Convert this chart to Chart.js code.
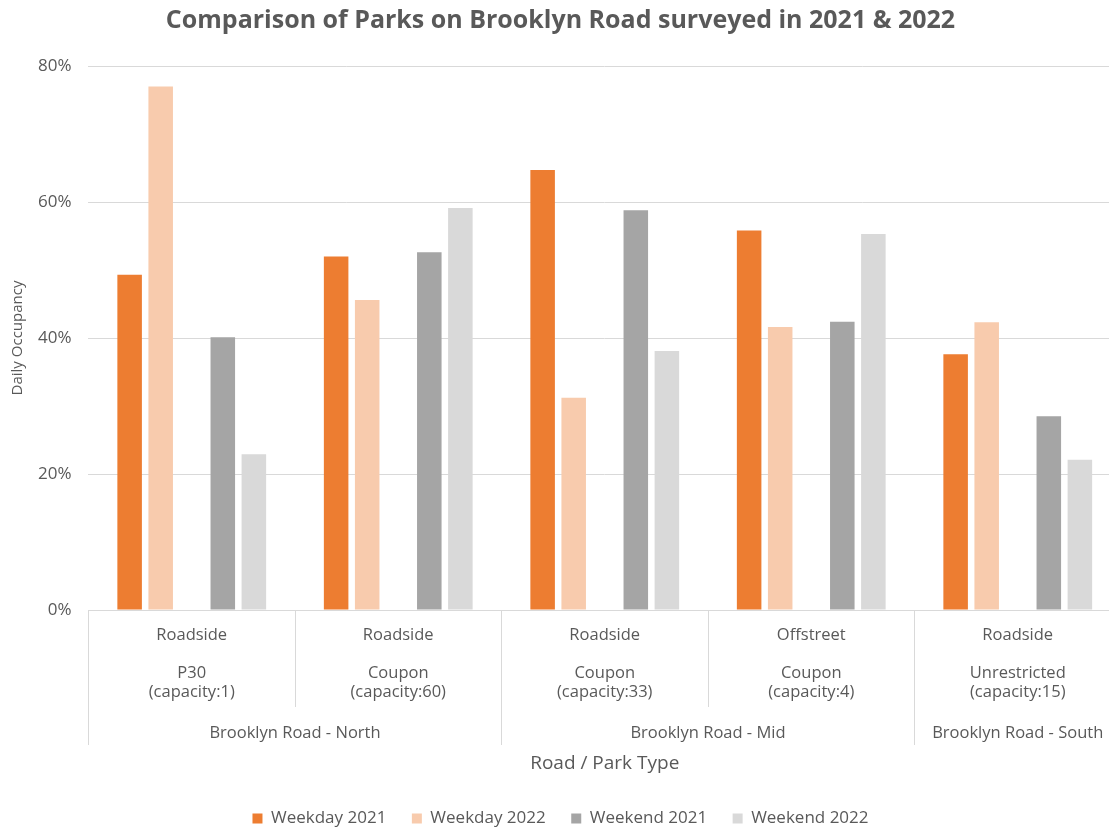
<!DOCTYPE html>
<html><head><meta charset="utf-8">
<script src="https://cdn.jsdelivr.net/npm/chart.js@4.4.1/dist/chart.umd.min.js"></script>
<style>html,body{margin:0;padding:0;overflow:hidden;background:#fff}</style>
</head><body>
<canvas id="c" width="1121" height="837" style="width:1121px;height:837px;display:block"></canvas>
<script>
const parkTypes = ["Roadside", "Roadside", "Roadside", "Offstreet", "Roadside"];
const restrictions = ["P30", "Coupon", "Coupon", "Coupon", "Unrestricted"];
const capacities = ["(capacity:1)", "(capacity:60)", "(capacity:33)", "(capacity:4)", "(capacity:15)"];
const roadGroups = ["Brooklyn Road - North", "Brooklyn Road - Mid", "Brooklyn Road - South"];
const roadGroupSizes = [2, 2, 1];
const seriesNames = ["Weekday 2021", "Weekday 2022", "Weekend 2021", "Weekend 2022"];
const weekday2021 = [49.3, 52.0, 64.7, 55.8, 37.6];
const weekday2022 = [77.0, 45.6, 31.2, 41.6, 42.3];
const weekend2021 = [40.1, 52.6, 58.8, 42.4, 28.5];
const weekend2022 = [22.9, 59.1, 38.1, 55.3, 22.1];
const yMin = 0, yMax = 80, yStep = 20;

const categoryLabels = parkTypes.map((t, i) => [t, "", restrictions[i], capacities[i]]);
const groupCenters = [];
{ let start = 0; roadGroupSizes.forEach(s => { groupCenters.push(start + (s - 1) / 2); start += s; }); }

const textColor = '#595959';
const gridColor = '#d9d9d9';
Chart.defaults.font.family = "'Open Sans', sans-serif";
Chart.defaults.color = textColor;

const separators = {
  id: 'separators',
  afterDraw(chart) {
    const x = chart.scales.x, ctx = chart.ctx;
    const top = chart.chartArea.bottom;
    const edges = new Set([0]);
    let acc = 0; roadGroupSizes.forEach(s => { acc += s; edges.add(acc); });
    ctx.save();
    ctx.strokeStyle = gridColor; ctx.lineWidth = 1;
    for (let i = 0; i <= parkTypes.length; i++) {
      const px = Math.round(x.getPixelForValue(i - 0.5)) + 0.5;
      const bottom = edges.has(i) ? x.bottom + 28 : x.bottom - 10;
      ctx.beginPath(); ctx.moveTo(px, top); ctx.lineTo(px, bottom); ctx.stroke();
    }
    ctx.restore();
  }
};

new Chart(document.getElementById('c'), {
  type: 'bar',
  data: {
    labels: categoryLabels,
    datasets: [
      { label: seriesNames[0], data: weekday2021, backgroundColor: '#ED7D31' },
      { label: seriesNames[1], data: weekday2022, backgroundColor: '#F8CBAD' },
      { label: '', data: [], backgroundColor: 'rgba(0,0,0,0)' },
      { label: seriesNames[2], data: weekend2021, backgroundColor: '#A5A5A5' },
      { label: seriesNames[3], data: weekend2022, backgroundColor: '#D9D9D9' }
    ]
  },
  options: {
    responsive: false,
    animation: false,
    categoryPercentage: 0.752,
    barPercentage: 0.79,
    layout: { padding: { left: 0, right: 0, top: 0, bottom: 0 } },
    plugins: {
      title: {
        display: true,
        text: 'Comparison of Parks on Brooklyn Road surveyed in 2021 & 2022',
        font: { size: 25, weight: 'bold' },
        color: textColor,
        padding: { top: 6, bottom: 30 }
      },
      legend: {
        position: 'bottom',
        labels: {
          boxWidth: 10, boxHeight: 10, padding: 25.5,
          font: { size: 17 }, color: textColor,
          filter: item => item.text !== ''
        }
      },
      tooltip: { enabled: false }
    },
    scales: {
      y: {
        min: yMin, max: yMax,
        ticks: { stepSize: yStep, callback: v => v + '%', font: { size: 17 }, padding: 17, color: textColor },
        grid: { color: gridColor, drawTicks: false },
        border: { display: false },
        title: { display: true, text: 'Daily Occupancy', font: { size: 15 }, color: textColor, padding: { top: 9, bottom: -6 } }
      },
      x: {
        weight: 0,
        grid: { display: false, drawTicks: false },
        border: { display: true, color: gridColor },
        ticks: { font: { size: 16.5, lineHeight: '19px' }, color: textColor, padding: 15.5, maxRotation: 0, autoSkip: false }
      },
      x2: {
        type: 'linear',
        position: 'bottom',
        weight: 1,
        min: -0.5, max: parkTypes.length - 0.5,
        offset: false,
        afterBuildTicks: axis => { axis.ticks = groupCenters.map(v => ({ value: v })); },
        ticks: { callback: (v, i) => roadGroups[i], font: { size: 16.5 }, color: textColor, padding: 6.1, maxRotation: 0, autoSkip: false },
        grid: { display: false, drawTicks: false },
        border: { display: false },
        title: { display: true, text: 'Road / Park Type', font: { size: 19 }, color: textColor, padding: { top: 2.7, bottom: 10 } }
      }
    }
  },
  plugins: [separators]
});
</script>
</body></html>
